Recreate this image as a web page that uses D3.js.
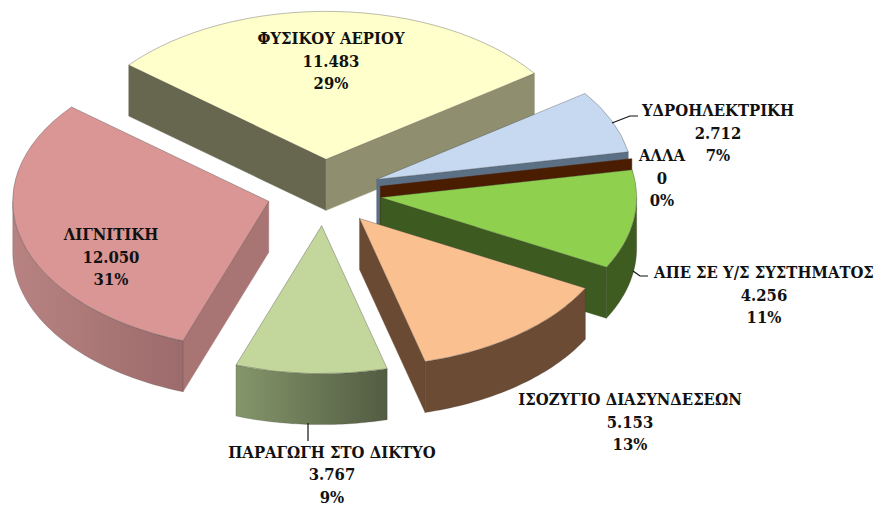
<!DOCTYPE html>
<html>
<head>
<meta charset="utf-8">
<script src="https://cdn.jsdelivr.net/npm/d3@7"></script>
<style>
  body { margin: 0; background: #fff; }
  text { font-family: "DejaVu Serif", serif; font-stretch: condensed; font-weight: bold; font-size: 16.5px; fill: #111; }
</style>
</head>
<body>
<div id="chart"></div>
<script>
// data, clockwise from the left edge of the natural gas slice
const categories = ["ΦΥΣΙΚΟΥ ΑΕΡΙΟΥ", "ΥΔΡΟΗΛΕΚΤΡΙΚΗ", "ΑΛΛΑ", "ΑΠΕ ΣΕ Υ/Σ ΣΥΣΤΗΜΑΤΟΣ", "ΙΣΟΖΥΓΙΟ ΔΙΑΣΥΝΔΕΣΕΩΝ", "ΠΑΡΑΓΩΓΗ ΣΤΟ ΔΙΚΤΥΟ", "ΛΙΓΝΙΤΙΚΗ"];
const values = [11483, 2712, 0, 4256, 5153, 3767, 12050];
const percents = [29, 7, 0, 11, 13, 9, 31];

// colours
const topColors = ["#FFFFCC", "#C6D9F1", "#4A1C00", "#8FD04F", "#FAC090", "#C3D69B", "#D99694"];
const startWall = ["#67674F", "#5B6F85", "#4A1C00", "#3D5A20", "#6A4A33", "#7F9066", "#A87474"];
const endWall = ["#8F8F70", "#5B6F85", "#4A1C00", "#3D5A20", "#6A4A33", "#525C42", "#A87474"];
const rimLeft = ["#8F8F70", "#5B6F85", "#4A1C00", "#3F5C20", "#6B4B34", "#84966A", "#B88282"];
const rimRight = ["#8F8F70", "#5B6F85", "#4A1C00", "#3F5C20", "#6B4B34", "#525C42", "#9C6B6B"];

// label centre x and first line y, separate from the data
const labelX = [331, 718, 662, 764, 630, 332, 111];
const labelY = [44, 116, 161, 278, 405, 457.5, 240];
const lineGap = 22.5;
// leader lines
const leaders = [
  [[612, 123], [630, 116], [638, 116]],
  [[633, 271], [640, 276], [648, 276]],
  [[308, 423], [308, 441]]
];

const width = 880, height = 506;
const cx = 324, cy = 192.5, rx = 256, ry = 148, depth = 51, explode = 0.224;
const startDeg = -50.4;

const svg = d3.select("#chart").append("svg").attr("width", width).attr("height", height);
const defs = svg.append("defs");

// unit circle to flattened ellipse
const xR = d3.scaleLinear().domain([-1, 1]).range([-rx, rx]);
const yR = d3.scaleLinear().domain([-1, 1]).range([-ry, ry]);
const onEllipse = (a, r = 1) => [xR(Math.sin(a) * r), yR(-Math.cos(a) * r)];

const pie = d3.pie().sort(null)
  .startAngle(startDeg * Math.PI / 180)
  .endAngle(startDeg * Math.PI / 180 + 2 * Math.PI);

const slices = pie(values).map((d, i) => {
  const mid = (d.startAngle + d.endAngle) / 2;
  const off = onEllipse(mid, explode);
  return { ...d, i, x: cx + off[0], y: cy + off[1] };
});
// back to front
slices.sort((a, b) => a.y - b.y);

const arc = d3.arc().innerRadius(0).outerRadius(rx);
const line = d3.line();

const g = svg.selectAll("g.slice").data(slices).enter().append("g")
  .attr("class", "slice")
  .attr("transform", d => `translate(${d.x},${d.y})`);

// radial wall between the centre and one rim corner
function radialWall(a) {
  const p = onEllipse(a);
  return line([[0, 0], p, [p[0], p[1] + depth], [0, depth]]) + "Z";
}

g.filter(d => Math.sin(d.startAngle) < 0).append("path")
  .attr("d", d => radialWall(d.startAngle))
  .attr("fill", d => startWall[d.i])
  .attr("stroke", d => startWall[d.i]).attr("stroke-width", 0.5);

g.filter(d => Math.sin(d.endAngle) > 0).append("path")
  .attr("d", d => radialWall(d.endAngle))
  .attr("fill", d => endWall[d.i])
  .attr("stroke", d => endWall[d.i]).attr("stroke-width", 0.5);

// outer curved wall, only the part on the near side of the ellipse
slices.forEach(d => {
  const grad = defs.append("linearGradient").attr("id", "rim" + d.i);
  grad.append("stop").attr("offset", 0).attr("stop-color", rimLeft[d.i]);
  grad.append("stop").attr("offset", 1).attr("stop-color", rimRight[d.i]);
});

function rimWall(d) {
  const a0 = Math.max(d.startAngle, Math.PI / 2), a1 = Math.min(d.endAngle, 3 * Math.PI / 2);
  const angles = d3.range(0, 41).map(k => a0 + (a1 - a0) * k / 40);
  const upper = angles.map(a => onEllipse(a));
  const lower = angles.slice().reverse().map(a => { const p = onEllipse(a); return [p[0], p[1] + depth]; });
  return line(upper.concat(lower)) + "Z";
}

g.filter(d => Math.max(d.startAngle, Math.PI / 2) < Math.min(d.endAngle, 3 * Math.PI / 2)).append("path")
  .attr("d", rimWall)
  .attr("fill", d => `url(#rim${d.i})`)
  .attr("stroke", "#333").attr("stroke-opacity", 0.35).attr("stroke-width", 0.6);

// top face: a normal d3 arc squashed into the ellipse
g.filter(d => d.endAngle > d.startAngle).append("path")
  .attr("transform", `scale(1,${ry / rx})`)
  .attr("d", d => arc(d))
  .attr("fill", d => topColors[d.i])
  .attr("stroke", "#444").attr("stroke-opacity", 0.45).attr("stroke-width", 0.8)
  .attr("vector-effect", "non-scaling-stroke");

// leader lines
svg.selectAll("path.leader").data(leaders).enter().append("path")
  .attr("class", "leader")
  .attr("d", d => line(d))
  .attr("fill", "none").attr("stroke", "#111").attr("stroke-width", 1.2);

// labels
const fmt = d3.formatLocale({ decimal: ",", thousands: ".", grouping: [3], currency: ["", ""] }).format(",");
const labels = svg.selectAll("text.label").data(categories).enter().append("text")
  .attr("class", "label")
  .attr("text-anchor", "middle");

labels.each(function (name, i) {
  const rows = [name, fmt(values[i]), percents[i] + "%"];
  d3.select(this).selectAll("tspan").data(rows).enter().append("tspan")
    .attr("x", labelX[i])
    .attr("y", (r, k) => labelY[i] + k * lineGap)
    .text(r => r);
});
</script>
</body>
</html>
